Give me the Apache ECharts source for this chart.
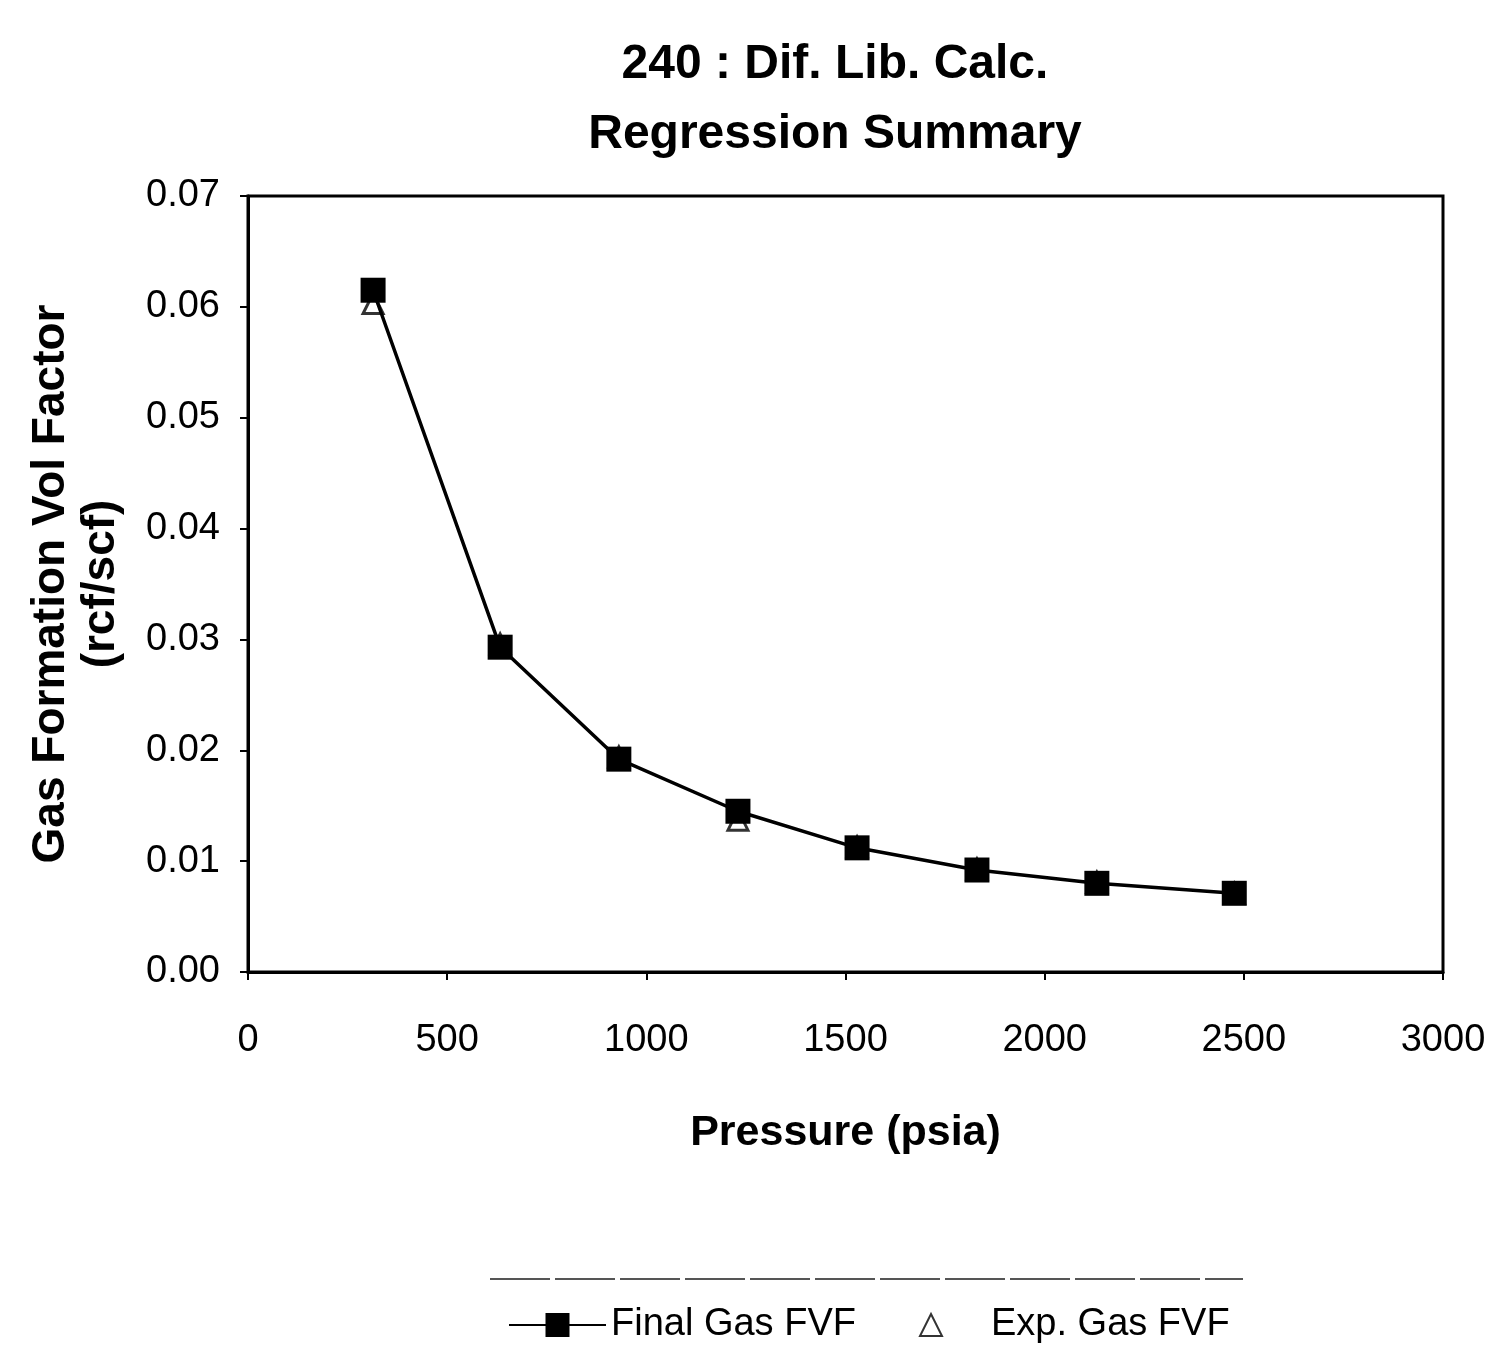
<!DOCTYPE html>
<html>
<head>
<meta charset="utf-8">
<script src="https://cdn.jsdelivr.net/npm/echarts@6/dist/echarts.min.js"></script>
<style>html,body{margin:0;padding:0;background:#fff}#c{width:1495px;height:1370px}</style>
</head>
<body>
<div id="c"></div>
<script>
// Data
const pressure = [314, 633, 931, 1230, 1529, 1830, 2131, 2476];
const finalGasFVF = [0.0615, 0.0293, 0.0192, 0.0145, 0.0112, 0.0092, 0.0080, 0.0071];
const expPressure = [314, 633, 931, 1230, 1529, 1830, 2131, 2476];
const expGasFVF = [0.0603, 0.0296, 0.0194, 0.0137, 0.0113, 0.0093, 0.0081, 0.0071];
const xTicks = [0, 500, 1000, 1500, 2000, 2500, 3000];
const yTicks = [0.00, 0.01, 0.02, 0.03, 0.04, 0.05, 0.06, 0.07];

const sans = "'Liberation Sans', Arial, sans-serif";

const chart = echarts.init(document.getElementById('c'));
chart.setOption({
  animation: false,
  backgroundColor: '#fff',
  title: {
    text: '240 : Dif. Lib. Calc.\nRegression Summary',
    left: 830,
    top: 25,
    textAlign: 'center',
    textStyle: { fontFamily: sans, fontWeight: 'bold', fontSize: 48, lineHeight: 70, color: '#000' }
  },
  grid: {
    left: 248, right: 52, top: 196, bottom: 398,
    outerBoundsMode: 'none',
    containLabel: false,
    show: true, borderColor: '#000', borderWidth: 3, backgroundColor: '#fff'
  },
  xAxis: {
    type: 'value',
    min: xTicks[0], max: xTicks[xTicks.length - 1], interval: 500,
    name: 'Pressure (psia)',
    nameLocation: 'middle',
    nameGap: 140,
    nameTextStyle: { fontFamily: sans, fontWeight: 'bold', fontSize: 43, color: '#000' },
    axisLine: { show: true, lineStyle: { color: '#000', width: 3 } },
    axisTick: { show: true, inside: false, length: 8, lineStyle: { color: '#000', width: 2 } },
    axisLabel: { margin: 50, fontFamily: sans, fontSize: 38, color: '#000', formatter: v => String(v) },
    splitLine: { show: false }
  },
  yAxis: {
    type: 'value',
    min: yTicks[0], max: yTicks[yTicks.length - 1], interval: 0.01,
    name: 'Gas Formation Vol Factor\n(rcf/scf)',
    nameLocation: 'middle',
    nameRotate: 90,
    nameGap: 122,
    nameTextStyle: { fontFamily: sans, fontWeight: 'bold', fontSize: 46, lineHeight: 50, color: '#000' },
    axisLine: { show: true, lineStyle: { color: '#000', width: 3 } },
    axisTick: { show: true, inside: false, length: 8, lineStyle: { color: '#000', width: 2 } },
    axisLabel: { margin: 28, fontFamily: sans, fontSize: 38, color: '#000', formatter: v => v.toFixed(2) },
    splitLine: { show: false }
  },
  legend: [
    {
      left: 503, top: 1301,
      itemWidth: 97, itemHeight: 30,
      textStyle: { fontFamily: sans, fontSize: 38, color: '#000' },
      data: ['Final Gas FVF']
    },
    {
      left: 914, top: 1301,
      itemWidth: 22, itemHeight: 22,
      textStyle: { fontFamily: sans, fontSize: 38, color: '#000', padding: [0, 0, 0, 44] },
      data: ['Exp. Gas FVF']
    }
  ],
  graphic: [{
    type: 'line', shape: { x1: 490, y1: 1279, x2: 1243, y2: 1279 },
    style: { stroke: '#555', lineWidth: 2, lineDash: [60, 5] }, silent: true
  }],
  series: [
    {
      name: 'Final Gas FVF', type: 'line',
      data: pressure.map((p, i) => [p, finalGasFVF[i]]),
      symbol: 'rect', symbolSize: 25,
      lineStyle: { color: '#000', width: 3.5 },
      itemStyle: { color: '#000' },
      z: 3
    },
    {
      name: 'Exp. Gas FVF', type: 'scatter',
      data: expPressure.map((p, i) => [p, expGasFVF[i]]),
      symbol: 'triangle', symbolSize: 20,
      itemStyle: { color: '#fff', borderColor: '#000', borderWidth: 3 },
      z: 2
    }
  ]
});
</script>
</body>
</html>
